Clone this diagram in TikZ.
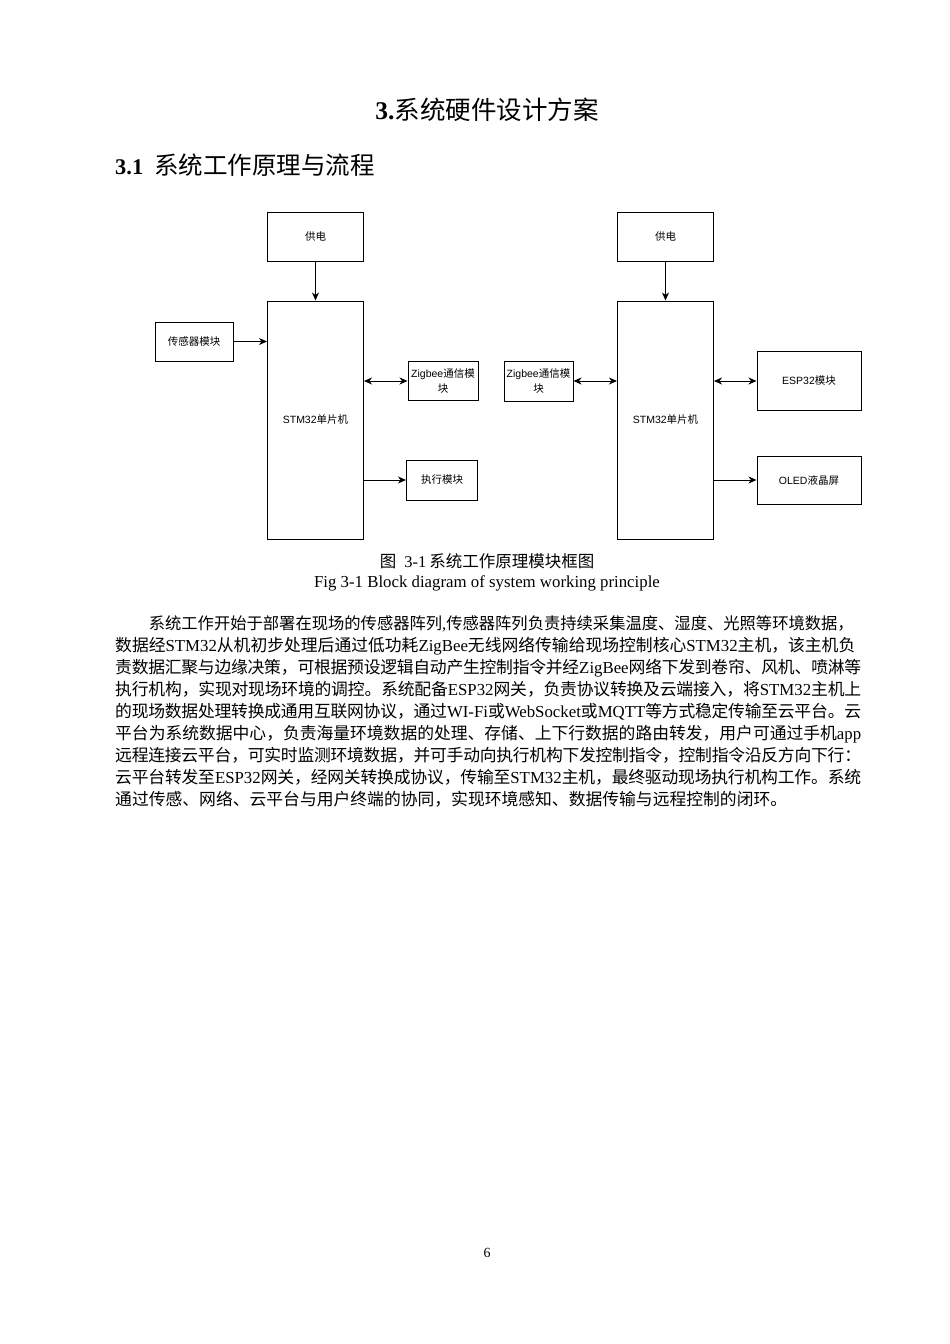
\documentclass[tikz,border=0pt]{standalone}
\usepackage{fontspec}
\setmainfont{Noto Sans CJK SC}
\newfontfamily\timesf{Liberation Serif}
\newfontfamily\arialf{Liberation Sans}
\usetikzlibrary{arrows.meta}
\newcommand\tnr[1]{{\timesf #1}}
\newcommand\hv[1]{{\arialf #1}}
\XeTeXlinebreaklocale "zh"
\XeTeXlinebreakskip=0pt plus 3pt minus 1pt
\begin{document}
\begin{tikzpicture}[x=1pt,y=-1pt,
  blk/.style={draw=black,line width=1pt,rectangle,inner sep=0pt,align=center,font=\fontsize{10.5}{15}\selectfont},
  arr/.style={line width=1pt,-{Stealth[length=8pt,width=7pt,inset=2.5pt]}},
  darr/.style={line width=1pt,{Stealth[length=8pt,width=7pt,inset=2.5pt]}-{Stealth[length=8pt,width=7pt,inset=2.5pt]}},
  bodyl/.style={anchor=base west,inner sep=0pt,font=\fontsize{16.8}{22}\selectfont},
  jl/.style={bodyl,text width=746pt},
  txt/.style={inner sep=0pt}
]
\useasboundingbox (0,0) rectangle (950,1344);
\fill[white] (0,0) rectangle (950,1344);

% headings
\node[txt,anchor=base] (title) at (487,119.5) {\fontsize{25.5}{30}\selectfont{\timesf\bfseries 3.}系统硬件设计方案};
\node[txt,anchor=base west] (head) at (115,174) {{\fontsize{22.4}{28}\selectfont\timesf\bfseries 3.1}\hspace{11pt}{\fontsize{24.5}{28}\selectfont 系统工作原理与流程}};

% left diagram
\node[blk,minimum width=96pt,minimum height=49pt] (pw1) at (315.5,236.5) {供电};
\node[blk,minimum width=96pt,minimum height=238pt] (stm1) at (315.5,420) {\hv{STM32}单片机};
\node[blk,minimum width=78pt,minimum height=39pt] (sens) at (194,341.5) {传感器模块};
\node[blk,minimum width=70pt,minimum height=39pt] (zig1) at (443,381) {\hv{Zigbee}通信模\\块};
\node[blk,minimum width=71pt,minimum height=40pt] (act) at (442,480) {执行模块};

\draw[arr] (pw1.south) -- (stm1.north);
\draw[arr] (sens.east) -- (sens.east -| stm1.west);
\draw[darr] (stm1.east |- zig1.west) -- (zig1.west);
\draw[arr] (stm1.east |- act.west) -- (act.west);

% right diagram
\node[blk,minimum width=96pt,minimum height=49pt] (pw2) at (665.5,236.5) {供电};
\node[blk,minimum width=96pt,minimum height=238pt] (stm2) at (665.5,420) {\hv{STM32}单片机};
\node[blk,minimum width=69pt,minimum height=40pt] (zig2) at (538.5,381) {\hv{Zigbee}通信模\\块};
\node[blk,minimum width=104pt,minimum height=59pt] (esp) at (809,381) {\hv{ESP32}模块};
\node[blk,minimum width=104pt,minimum height=48pt] (oled) at (809,480) {\hv{OLED}液晶屏};

\draw[arr] (pw2.south) -- (stm2.north);
\draw[darr] (zig2.east) -- (zig2.east -| stm2.west);
\draw[darr] (stm2.east |- esp.west) -- (esp.west);
\draw[arr] (stm2.east |- oled.west) -- (oled.west);

% captions
\node[txt,anchor=base] (cap1) at (487,567) {\fontsize{16.5}{20}\selectfont 图\hspace{8pt}\tnr{3-1}\hspace{3pt}系统工作原理模块框图};
\node[txt,anchor=base] (cap2) at (487,587.5) {\fontsize{16.8}{20}\selectfont\timesf Fig 3-1 Block diagram of system working principle};

% body
\node[bodyl,text width=712.4pt,font=\fontsize{16.3}{22}\selectfont] (l1) at (148.6,629.4) {\parindent=0pt\leftskip=0pt\rightskip=0pt\parfillskip=0pt 系统工作开始于部署在现场的传感器阵列\tnr{,}传感器阵列负责持续采集温度、湿度、光照等环境数据，};
\node[jl] (l2) at (115,651.4) {\parindent=0pt\leftskip=0pt\rightskip=0pt\parfillskip=0pt 数据经\tnr{STM32}从机初步处理后通过低功耗\tnr{ZigBee}无线网络传输给现场控制核心\tnr{STM32}主机，该主机负};
\node[jl] (l3) at (115,673.4) {\parindent=0pt\leftskip=0pt\rightskip=0pt\parfillskip=0pt 责数据汇聚与边缘决策，可根据预设逻辑自动产生控制指令并经\tnr{ZigBee}网络下发到卷帘、风机、喷淋等};
\node[jl] (l4) at (115,695.4) {\parindent=0pt\leftskip=0pt\rightskip=0pt\parfillskip=0pt 执行机构，实现对现场环境的调控。系统配备\tnr{ESP32}网关，负责协议转换及云端接入，将\tnr{STM32}主机上};
\node[jl] (l5) at (115,717.4) {\parindent=0pt\leftskip=0pt\rightskip=0pt\parfillskip=0pt 的现场数据处理转换成通用互联网协议，通过\tnr{WI-Fi}或\tnr{WebSocket}或\tnr{MQTT}等方式稳定传输至云平台。云};
\node[jl] (l6) at (115,739.4) {\parindent=0pt\leftskip=0pt\rightskip=0pt\parfillskip=0pt 平台为系统数据中心，负责海量环境数据的处理、存储、上下行数据的路由转发，用户可通过手机\tnr{app}};
\node[jl] (l7) at (115,761.4) {\parindent=0pt\leftskip=0pt\rightskip=0pt\parfillskip=0pt 远程连接云平台，可实时监测环境数据，并可手动向执行机构下发控制指令，控制指令沿反方向下行：};
\node[jl] (l8) at (115,783.4) {\parindent=0pt\leftskip=0pt\rightskip=0pt\parfillskip=0pt 云平台转发至\tnr{ESP32}网关，经网关转换成协议，传输至\tnr{STM32}主机，最终驱动现场执行机构工作。系统};
\node[bodyl] (l9) at (115,805.4) {通过传感、网络、云平台与用户终端的协同，实现环境感知、数据传输与远程控制的闭环。};

% page number
\node[txt,anchor=base] (pg) at (487,1257) {\fontsize{14}{16}\selectfont\timesf 6};
\end{tikzpicture}
\end{document}
